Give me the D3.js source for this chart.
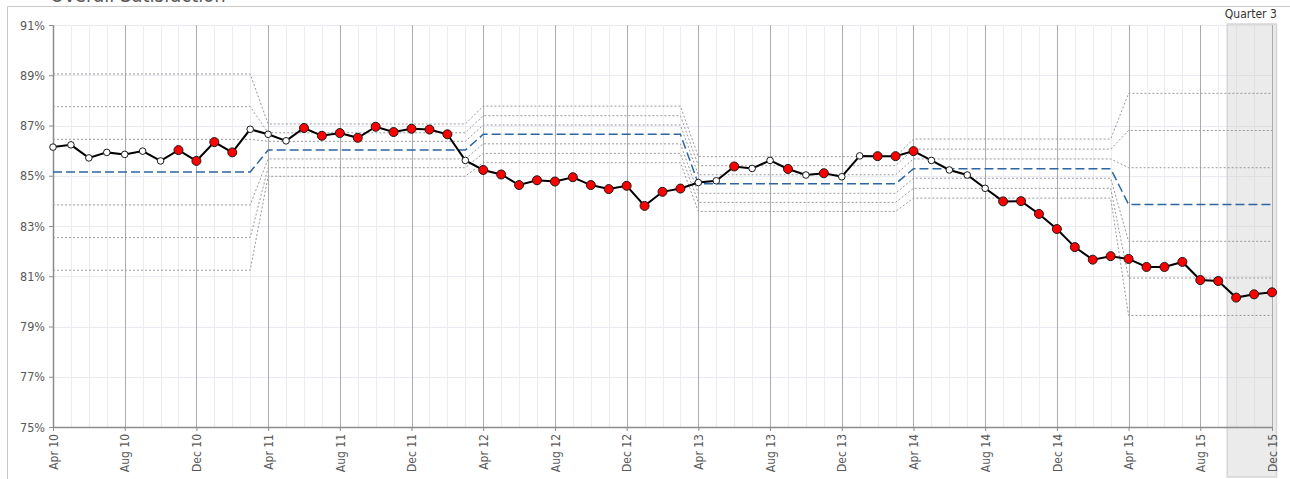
<!DOCTYPE html>
<html>
<head>
<meta charset="utf-8">
<script src="https://cdn.jsdelivr.net/npm/d3@7"></script>
<style>
  html, body { margin: 0; padding: 0; background: #fff; }
  #chart { width: 1290px; height: 479px; }
  svg text { font-family: "Liberation Sans Narrow", "Arial Narrow", "DejaVu Sans Condensed", sans-serif; }
</style>
</head>
<body>
<div id="chart"></div>
<script>
// monthly values, Apr 10 .. Dec 15
const values = [86.14, 86.23, 85.71, 85.93, 85.85, 85.98, 85.59, 86.02, 85.59, 86.34, 85.93, 86.85,
  86.65, 86.39, 86.90, 86.59, 86.70, 86.51, 86.95, 86.74, 86.87, 86.84, 86.65, 85.61,
  85.23, 85.05, 84.63, 84.82, 84.77, 84.94, 84.63, 84.47, 84.60, 83.80, 84.36, 84.49,
  84.73, 84.80, 85.37, 85.29, 85.61, 85.27, 85.03, 85.10, 84.96, 85.79, 85.78, 85.78,
  85.98, 85.61, 85.23, 85.03, 84.50, 83.98, 83.99, 83.48, 82.88, 82.16, 81.66, 81.80,
  81.69, 81.37, 81.37, 81.57, 80.85, 80.81, 80.15, 80.28, 80.36];

// 1 = flagged point (red marker)
const signals = [0,0,0,0,0,0,0,1,1,1,1,0,
  0,0,1,1,1,1,1,1,1,1,1,0,
  1,1,1,1,1,1,1,1,1,1,1,1,
  0,0,1,0,0,1,0,1,0,0,1,1,
  1,0,0,0,0,1,1,1,1,1,1,1,
  1,1,1,1,1,1,1,1,1];

// limits per phase: +3s, +2s, +1s, mean, -1s, -2s, -3s
const phaseStart = [0, 12, 24, 36, 48, 60];
const phaseLimits = [
  [89.05, 87.75, 86.45, 85.15, 83.84, 82.54, 81.24],
  [87.06, 86.71, 86.37, 86.02, 85.67, 85.32, 84.98],
  [87.77, 87.39, 87.02, 86.65, 86.27, 85.89, 85.52],
  [85.76, 85.40, 85.04, 84.68, 84.30, 83.94, 83.58],
  [86.46, 86.06, 85.67, 85.28, 84.90, 84.50, 84.11],
  [88.28, 86.80, 85.32, 83.86, 82.39, 80.93, 79.44]
];

const tickLabels = ['Apr 10','Aug 10','Dec 10','Apr 11','Aug 11','Dec 11','Apr 12','Aug 12','Dec 12',
  'Apr 13','Aug 13','Dec 13','Apr 14','Aug 14','Dec 14','Apr 15','Aug 15','Dec 15'];
const yTicks = [75, 77, 79, 81, 83, 85, 87, 89, 91];
const quarterBand = { label: 'Quarter 3', from: 65.5, to: 68.25 };
const title = 'Overall Satisfaction';

;(function(){
  const months = d3.timeMonth.range(new Date(2010, 3, 1), new Date(2016, 0, 1))
    .map(d3.timeFormat('%b %y'));

  const W = 1290, H = 479;
  const m = { left: 53, right: 1272, top: 25, bottom: 427 };

  const svg = d3.select('#chart').append('svg')
    .attr('width', W).attr('height', H);

  const x = d3.scaleLinear().domain([0, months.length - 1]).range([m.left, m.right]);
  const y = d3.scaleLinear().domain([75, 91]).range([m.bottom, m.top]);

  // outer frame
  svg.append('path')
    .attr('d', `M7.5,${H} V6.5 H${W}`)
    .attr('fill', 'none').attr('stroke', '#c9c9c9');

  // title, scrolled mostly out of view like the original
  svg.append('text')
    .attr('x', 50).attr('y', 2)
    .attr('font-size', 20).attr('fill', '#595959')
    .text(title);

  // horizontal gridlines
  svg.append('g').selectAll('line')
    .data(yTicks.slice(1))
    .join('line')
      .attr('x1', m.left).attr('x2', m.right)
      .attr('y1', d => Math.round(y(d)) + 0.5).attr('y2', d => Math.round(y(d)) + 0.5)
      .attr('stroke', '#e8ebf1');

  // monthly minor gridlines
  svg.append('g').selectAll('line')
    .data(d3.range(months.length).filter(i => i % 4 !== 0))
    .join('line')
      .attr('x1', d => Math.round(x(d)) + 0.5).attr('x2', d => Math.round(x(d)) + 0.5)
      .attr('y1', m.top).attr('y2', m.bottom)
      .attr('stroke', '#eaedf2');

  // quarter band
  svg.append('rect')
    .attr('x', x(quarterBand.from)).attr('y', m.top - 1)
    .attr('width', x(quarterBand.to) - x(quarterBand.from))
    .attr('height', H - 2 - (m.top - 1))
    .attr('fill', 'rgba(205,205,205,0.4)')
    .attr('stroke', '#d6d6d6').attr('stroke-width', 1.5);

  svg.append('text')
    .attr('x', (x(quarterBand.from) + x(quarterBand.to)) / 2 - 1).attr('y', 18)
    .attr('text-anchor', 'middle')
    .attr('font-size', 12).attr('fill', '#333')
    .text(quarterBand.label);

  // major gridlines
  svg.append('g').selectAll('line')
    .data(d3.range(0, months.length, 4))
    .join('line')
      .attr('x1', d => Math.round(x(d)) + 0.5).attr('x2', d => Math.round(x(d)) + 0.5)
      .attr('y1', m.top).attr('y2', m.bottom)
      .attr('stroke', '#ababab');

  // axes
  const yAxis = svg.append('g')
    .attr('transform', `translate(${m.left},0)`)
    .call(d3.axisLeft(y).tickValues(yTicks).tickFormat(d => d + '%').tickSize(4).tickSizeOuter(0));
  yAxis.select('.domain').attr('stroke', '#8c8c8c').attr('stroke-width', 1.5);
  yAxis.selectAll('.tick line').attr('stroke', '#8c8c8c');
  yAxis.selectAll('.tick text').attr('font-size', 12.5).attr('fill', '#595959').attr('x', -8);

  const xAxis = svg.append('g')
    .attr('transform', `translate(0,${m.bottom})`)
    .call(d3.axisBottom(x)
      .tickValues(tickLabels.map(t => months.indexOf(t)))
      .tickFormat(i => months[i]).tickSize(4).tickSizeOuter(0));
  xAxis.select('.domain').attr('stroke', '#8c8c8c').attr('stroke-width', 1.5);
  xAxis.selectAll('.tick line').attr('stroke', '#8c8c8c');
  xAxis.selectAll('.tick text')
    .attr('font-size', 12).attr('fill', '#595959')
    .attr('transform', 'rotate(-90)')
    .attr('text-anchor', 'end')
    .attr('x', -7).attr('y', 0).attr('dy', '0.35em');

  // control limit lines, one value per month
  const phaseOf = i => d3.bisectRight(phaseStart, i) - 1;
  const limitLine = d3.line().x((d, i) => x(i)).y(d => y(d));
  d3.range(7).forEach(k => {
    const pts = months.map((mm, i) => phaseLimits[phaseOf(i)][k]);
    svg.append('path')
      .datum(pts)
      .attr('d', limitLine)
      .attr('fill', 'none')
      .attr('stroke', k === 3 ? '#2d64a3' : '#999')
      .attr('stroke-width', k === 3 ? 1.5 : 1)
      .attr('stroke-dasharray', k === 3 ? '9,4' : '2,2');
  });

  // data line
  svg.append('path')
    .datum(values)
    .attr('d', d3.line().x((d, i) => x(i)).y(d => y(d)))
    .attr('fill', 'none')
    .attr('stroke', '#000')
    .attr('stroke-width', 2);

  svg.append('g').selectAll('circle')
    .data(values)
    .join('circle')
      .attr('cx', (d, i) => x(i))
      .attr('cy', d => y(d))
      .attr('r', (d, i) => signals[i] ? 4.5 : 3.3)
      .attr('fill', (d, i) => signals[i] ? '#ff0000' : '#fff')
      .attr('stroke', '#1a1a1a')
      .attr('stroke-width', 1);
})();
</script>
</body>
</html>
